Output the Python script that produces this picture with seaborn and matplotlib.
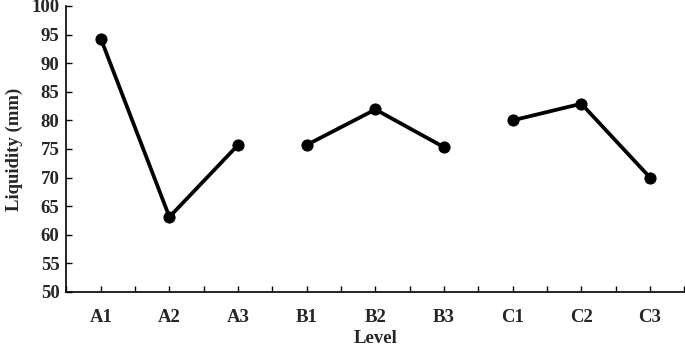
import pandas as pd
import seaborn as sns
import matplotlib.pyplot as plt
from matplotlib.ticker import MultipleLocator

# Level labels, factor group and measured liquidity
levels = ["A1", "A2", "A3", "B1", "B2", "B3", "C1", "C2", "C3"]
groups = ["A", "A", "A", "B", "B", "B", "C", "C", "C"]
liquidity = [94.3, 63.1, 75.7, 75.7, 81.9, 75.3, 80.0, 82.9, 70.0]

df = pd.DataFrame({"level": levels, "group": groups, "liquidity": liquidity})
df["pos"] = range(len(levels))

sns.set_theme(style="ticks")
plt.rcParams["font.family"] = ["Liberation Serif", "DejaVu Serif"]
plt.rcParams["font.weight"] = "bold"

FS = 13.5

fig, ax = plt.subplots(figsize=(6.85, 3.5), dpi=100)
fig.subplots_adjust(left=0.097, right=0.999, top=0.983, bottom=0.166)

sns.lineplot(data=df, x="pos", y="liquidity", hue="group",
             palette=["black"] * 3, legend=False, ax=ax,
             linewidth=2.7, marker="o", markersize=8,
             markeredgecolor="black")

ax.set_xlim(-0.5, len(levels) - 0.5)
ax.set_ylim(50, 100)
ax.yaxis.set_major_locator(MultipleLocator(5))
ax.set_xticks(df["pos"])
ax.set_xticklabels(levels, fontsize=FS, fontweight="bold")
ax.xaxis.set_minor_locator(MultipleLocator(1, offset=0.5))
for lab in ax.get_yticklabels():
    lab.set_fontsize(FS)
    lab.set_fontweight("bold")

ax.tick_params(axis="both", which="both", direction="in", length=4,
               width=1, color="black")
ax.tick_params(axis="x", pad=12)
ax.tick_params(axis="y", pad=5)

ax.set_xlabel("Level", fontsize=FS, fontweight="bold", labelpad=3)
ax.set_ylabel("Liquidity (mm)", fontsize=FS, fontweight="bold", labelpad=6)

for side in ["top", "right"]:
    ax.spines[side].set_visible(False)
for side in ["left", "bottom"]:
    ax.spines[side].set_color("black")
    ax.spines[side].set_linewidth(1.2)

plt.savefig("out.png", dpi=100)
plt.close()
